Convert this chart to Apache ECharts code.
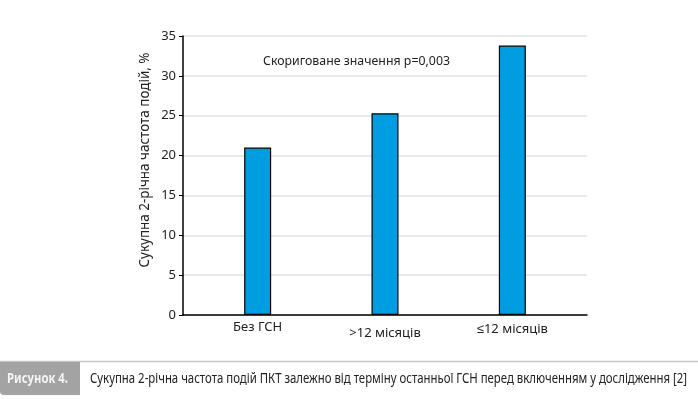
<!DOCTYPE html>
<html><head><meta charset="utf-8">
<script src="https://cdn.jsdelivr.net/npm/echarts@6/dist/echarts.min.js"></script>
<style>html,body{margin:0;padding:0;background:#fff}#c{width:698px;height:399px}</style>
</head><body><div id="c"></div>
<script>
const categories = ['Без ГСН', '>12 місяців', '≤12 місяців'];
const values = [21.0, 25.3, 33.8];
const yTicks = { min: 0, max: 35, interval: 5 };
const yTitle = 'Сукупна 2-річна частота подій, %';
const note = 'Скориговане значення p=0,003';
const figLabel = 'Рисунок 4.';
const caption = 'Сукупна 2-річна частота подій ПКТ залежно від терміну останньої ГСН перед включенням у дослідження [2]';
const labelPad = [0, 6, 2];

const FONT = '"Noto Sans", sans-serif';
const ctx = document.createElement('canvas').getContext('2d');
function fitScale(text, font, target) {
  ctx.font = font;
  return target / ctx.measureText(text).width;
}
const capFont = '14px ' + FONT;
const figFont = 'bold 14px ' + FONT;
const noteFont = '13px ' + FONT;
const titleFont = '14px ' + FONT;

const chart = echarts.init(document.getElementById('c'), null, {renderer: 'canvas'});
chart.setOption({
  animation: false,
  textStyle: { fontFamily: FONT },
  grid: [
    { left: 183, top: 36, width: 404, height: 279 },
    { left: 194, top: 36, width: 382, height: 279 }
  ],
  xAxis: [
    { type: 'value', gridIndex: 0, min: 0, max: 1, axisLine: { show: true, lineStyle: { color: '#000', width: 1.5 } },
      axisTick: { show: false }, axisLabel: { show: false }, splitLine: { show: false } },
    { type: 'category', gridIndex: 1, data: categories.map((c, i) => ({ value: c, textStyle: { padding: [labelPad[i], 0, 0, 0] } })),
      axisLine: { show: false }, axisTick: { show: false },
      axisLabel: { fontSize: 13, color: '#222', margin: 6, fontFamily: FONT } }
  ],
  yAxis: [
    { type: 'value', gridIndex: 0, min: yTicks.min, max: yTicks.max, interval: yTicks.interval,
      axisLine: { show: true, lineStyle: { color: '#000', width: 1.5 } },
      axisTick: { show: true, length: 4, lineStyle: { color: '#000' } },
      axisLabel: { fontSize: 13, color: '#222', margin: 7, fontFamily: FONT },
      splitLine: { show: true, lineStyle: { color: '#e2e2e2', width: 1.5 } } },
    { type: 'value', gridIndex: 1, min: yTicks.min, max: yTicks.max, interval: yTicks.interval, show: false, splitLine: { show: false } }
  ],
  series: [{
    type: 'bar', xAxisIndex: 1, yAxisIndex: 1, data: values, barWidth: 27,
    itemStyle: { color: '#009ee0', borderColor: '#000', borderWidth: 1.2 }
  }],
  graphic: [
    { type: 'text', x: 145, y: 160, rotation: Math.PI / 2, scaleX: fitScale(yTitle, titleFont, 215),
      style: { text: yTitle, font: titleFont, fill: '#222', textAlign: 'center', textVerticalAlign: 'middle' } },
    { type: 'text', x: 263, y: 61, scaleX: fitScale(note, noteFont, 187),
      style: { text: note, font: noteFont, fill: '#222', textVerticalAlign: 'middle' } },
    { type: 'rect', shape: { x: 0, y: 361.5, width: 698, height: 0 }, style: { stroke: '#c8c8c8', lineWidth: 1.5 } },
    { type: 'rect', shape: { x: 0, y: 362, width: 80, height: 33, r: [0, 0, 0, 4] }, style: { fill: '#a3a3a3' } },
    { type: 'text', x: 7, y: 379, scaleX: fitScale(figLabel, figFont, 61),
      style: { text: figLabel, font: figFont, fill: '#f4f4f4', textVerticalAlign: 'middle' } },
    { type: 'text', x: 90, y: 379, scaleX: fitScale(caption, capFont, 597),
      style: { text: caption, font: capFont, fill: '#222', textVerticalAlign: 'middle' } }
  ]
});
</script></body></html>
